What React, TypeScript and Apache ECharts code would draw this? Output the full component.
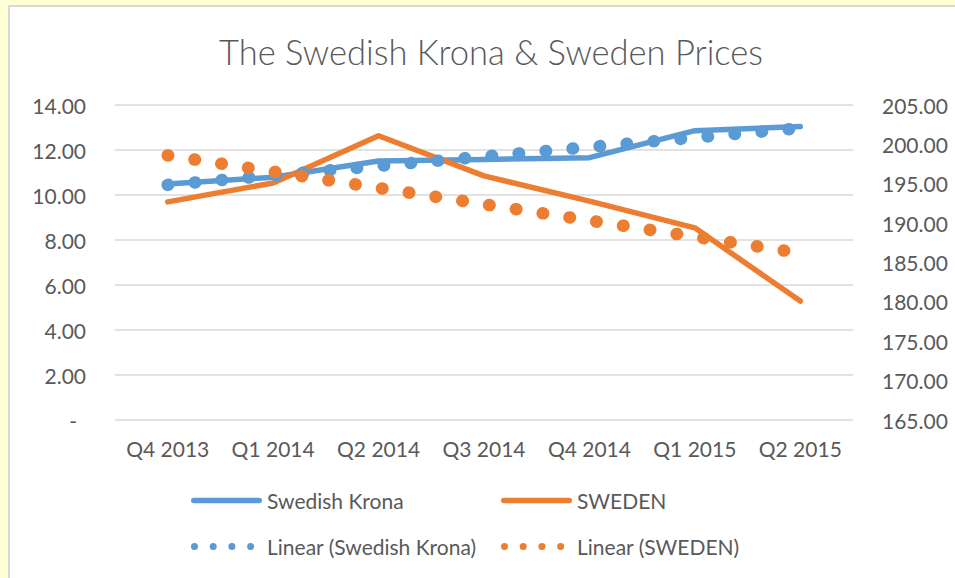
import React, { useEffect, useRef } from "react";
import * as echarts from "echarts";

const categories = ["Q4 2013", "Q1 2014", "Q2 2014", "Q3 2014", "Q4 2014", "Q1 2015", "Q2 2015"];
const kronaValues = [10.49, 10.79, 11.51, 11.58, 11.66, 12.86, 13.04];
const swedenValues = [192.7, 195.1, 201.1, 196.0, 192.8, 189.4, 180.1];
// linear trend lines (start and end values)
const kronaTrend = [10.45, 12.97];
const swedenTrend = [198.6, 186.2];
const leftTicks = { min: 0, max: 14, interval: 2 };
const rightTicks = { min: 165, max: 205, interval: 5 };

const BLUE = "#5B9BD5";
const ORANGE = "#ED7D31";
const TEXT = "#595959";
const FONT = "Lato";

const solidIcon =
  "path://M2.75 0.75 L68.25 0.75 A2.75 2.75 0 0 1 68.25 6.25 L2.75 6.25 A2.75 2.75 0 0 1 2.75 0.75 Z";
const dot = (cx: number) =>
  `M${cx - 3.5} 3.5 A3.5 3.5 0 1 0 ${cx + 3.5} 3.5 A3.5 3.5 0 1 0 ${cx - 3.5} 3.5 Z`;
const dotsIcon = "path://" + [3.5, 22.2, 40.9, 59.6].map(dot).join(" ") + " M70.9 3.5 L71 3.5 Z";

export default function App() {
  const ref = useRef<HTMLDivElement>(null);
  useEffect(() => {
    if (!ref.current) return;
    const chart = echarts.init(ref.current, undefined, { renderer: "svg" });
    const legendBase = {
      orient: "vertical" as const,
      top: 490,
      padding: 0,
      itemWidth: 71,
      itemHeight: 7,
      itemGap: 25,
      selectedMode: false,
      textStyle: { fontFamily: FONT, fontSize: 21, color: TEXT },
    };
    chart.setOption({
      animation: false,
      backgroundColor: "transparent",
      title: {
        text: "The Swedish Krona & Sweden Prices",
        left: 486,
        top: 29,
        textAlign: "center",
        textStyle: { fontFamily: FONT, fontSize: 34.5, fontWeight: 300, color: TEXT },
      },
      legend: [
        {
          ...legendBase,
          left: 191,
          data: [
            { name: "Swedish Krona", icon: solidIcon },
            { name: "Linear (Swedish Krona)", icon: dotsIcon },
          ],
        },
        {
          ...legendBase,
          left: 501,
          data: [
            { name: "SWEDEN", icon: solidIcon },
            { name: "Linear (SWEDEN)", icon: dotsIcon },
          ],
        },
      ],
      grid: { left: 115, right: 102, top: 105, bottom: 158 },
      xAxis: {
        type: "category",
        data: categories,
        boundaryGap: true,
        axisLine: { show: false },
        axisTick: { show: false },
        axisLabel: { fontFamily: FONT, fontSize: 21, color: TEXT, margin: 18, interval: 0 },
      },
      yAxis: [
        {
          type: "value",
          ...leftTicks,
          position: "left",
          axisLine: { show: false },
          axisTick: { show: false },
          splitLine: { lineStyle: { color: "#d9d9d9", width: 1.5 } },
          axisLabel: {
            fontFamily: FONT,
            fontSize: 21,
            color: TEXT,
            margin: 29,
            formatter: (v: number) => (v === 0 ? "{z|-}" : v.toFixed(2)),
            rich: { z: { fontFamily: FONT, fontSize: 21, color: TEXT, padding: [0, 9, 0, 0] } },
          },
        },
        {
          type: "value",
          ...rightTicks,
          position: "right",
          axisLine: { show: false },
          axisTick: { show: false },
          splitLine: { show: false },
          axisLabel: {
            fontFamily: FONT,
            fontSize: 21,
            color: TEXT,
            margin: 29,
            formatter: (v: number) => v.toFixed(2),
          },
        },
      ],
      series: [
        {
          name: "Swedish Krona",
          type: "line",
          yAxisIndex: 0,
          data: kronaValues,
          symbol: "none",
          color: BLUE,
          lineStyle: { color: BLUE, width: 5.5, cap: "round", join: "round" },
        },
        {
          name: "SWEDEN",
          type: "line",
          yAxisIndex: 1,
          data: swedenValues,
          symbol: "none",
          color: ORANGE,
          lineStyle: { color: ORANGE, width: 5.5, cap: "round", join: "round" },
        },
        {
          name: "Linear (Swedish Krona)",
          type: "line",
          yAxisIndex: 0,
          data: [
            [categories[0], kronaTrend[0]],
            [categories[categories.length - 1], kronaTrend[1]],
          ],
          symbol: "none",
          color: BLUE,
          lineStyle: { color: BLUE, width: 12.5, type: [0.5, 26.6], cap: "round" },
        },
        {
          name: "Linear (SWEDEN)",
          type: "line",
          yAxisIndex: 1,
          data: [
            [categories[0], swedenTrend[0]],
            [categories[categories.length - 1], swedenTrend[1]],
          ],
          symbol: "none",
          color: ORANGE,
          lineStyle: { color: ORANGE, width: 12.5, type: [0.5, 26.6], cap: "round" },
        },
      ],
    });
    return () => chart.dispose();
  }, []);

  return (
    <div
      style={{
        position: "fixed",
        left: 0,
        top: 0,
        width: 955,
        height: 578,
        overflow: "hidden",
        background: "#FFFFD6",
      }}
    >
      <div
        style={{
          position: "absolute",
          left: 8,
          top: 5,
          width: 1000,
          height: 620,
          background: "#ffffff",
          borderLeft: "2.5px solid #d9d9d9",
          borderTop: "2.5px solid #d9d9d9",
        }}
      />
      <div ref={ref} style={{ position: "absolute", left: 0, top: 0, width: 955, height: 578 }} />
    </div>
  );
}
